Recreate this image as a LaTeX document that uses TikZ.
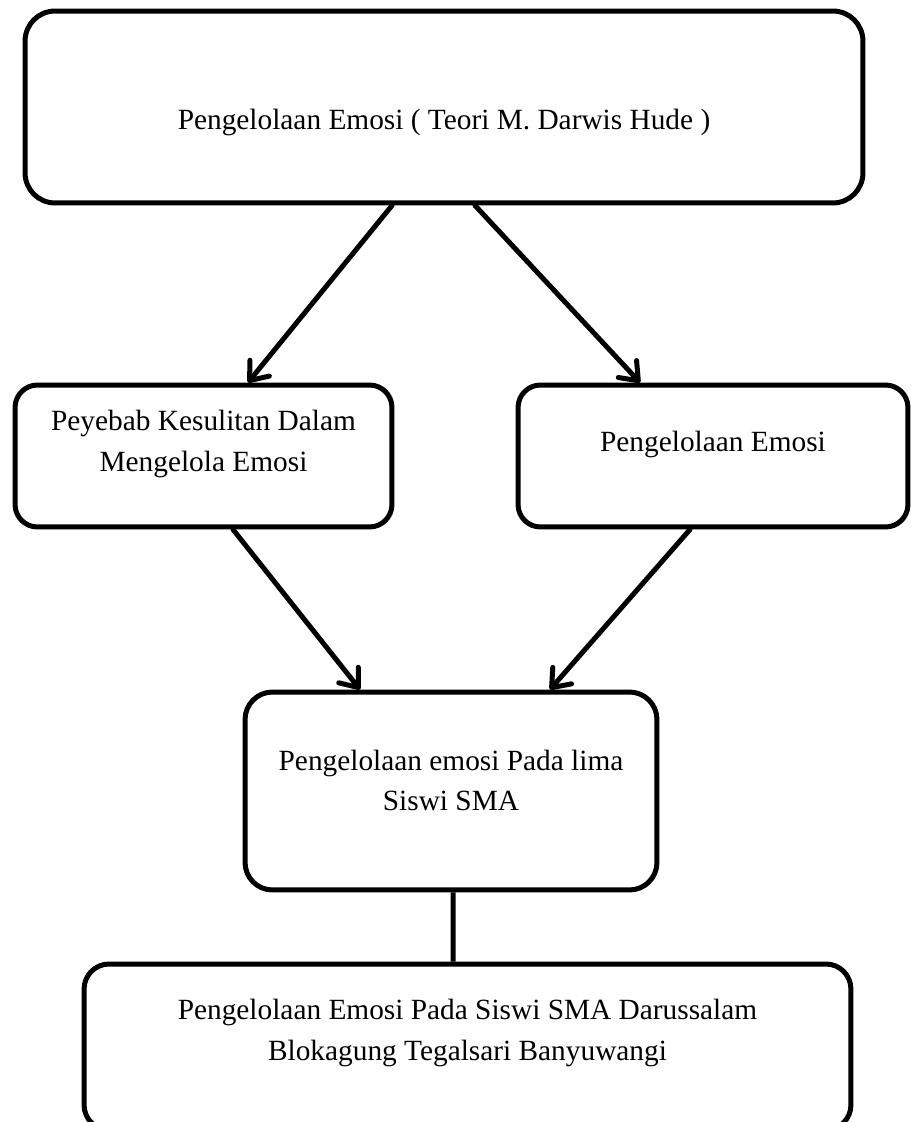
\documentclass[tikz,border=0pt]{standalone}
\usepackage{fontspec}
\setmainfont{Liberation Serif}
\usetikzlibrary{arrows.meta}

\tikzset{
  box/.style={draw=black, line width=0.1cm, inner sep=0pt},
  txt/.style={align=center, inner sep=0pt, font=\fontsize{16.7pt}{22.8pt}\selectfont},
  arr/.style={line width=0.1cm, line cap=round, -{Straight Barb[length=0.32cm,width=0.5cm,round]}},
  conn/.style={line width=0.1cm}
}

\begin{document}
\begin{tikzpicture}[x=0.02cm, y=-0.02cm]
    \useasboundingbox (0,0) rectangle (911,1122);

    % teori
    \node[box, minimum width=16.76cm, minimum height=3.84cm, rounded corners=0.6cm] (teori) at (444,107) {};
    \node[txt] (teori-t) at (444,122) {Pengelolaan Emosi ( Teori M. Darwis Hude )};

    % dua cabang
    \node[box, minimum width=7.54cm, minimum height=2.84cm, rounded corners=0.45cm] (sebab) at (203.5,456) {};
    \node[txt] (sebab-t) at (203.5,444) {Peyebab Kesulitan Dalam\\Mengelola Emosi};

    \node[box, minimum width=7.8cm, minimum height=2.84cm, rounded corners=0.45cm] (kelola) at (713,456) {};
    \node[txt] (kelola-t) at (713,444) {Pengelolaan Emosi};

    % lima siswi
    \node[box, minimum width=8.24cm, minimum height=3.96cm, rounded corners=0.55cm] (lima) at (451,791) {};
    \node[txt] (lima-t) at (451,780) {Pengelolaan emosi Pada lima\\Siswi SMA};

    % bawah
    \node[box, minimum width=15.34cm, minimum height=3.32cm, rounded corners=0.5cm] (siswi) at (467.5,1047) {};
    \node[txt] (siswi-t) at (467.5,1033) {Pengelolaan Emosi Pada Siswi SMA Darussalam\\Blokagung Tegalsari Banyuwangi};

    % panah
    \draw[arr] ([xshift=-1.04cm]teori.south) -- ([xshift=0.89cm]sebab.north);
    \draw[arr] ([xshift=0.62cm]teori.south) -- ([xshift=-1.46cm]kelola.north);
    \draw[arr] ([xshift=0.59cm]sebab.south) -- ([xshift=-1.82cm]lima.north);
    \draw[arr] ([xshift=-0.46cm]kelola.south) -- ([xshift=1.98cm]lima.north);
    % |
    \draw[conn] ([xshift=0.04cm]lima.south) -- ([xshift=-0.29cm]siswi.north);
\end{tikzpicture}
\end{document}
